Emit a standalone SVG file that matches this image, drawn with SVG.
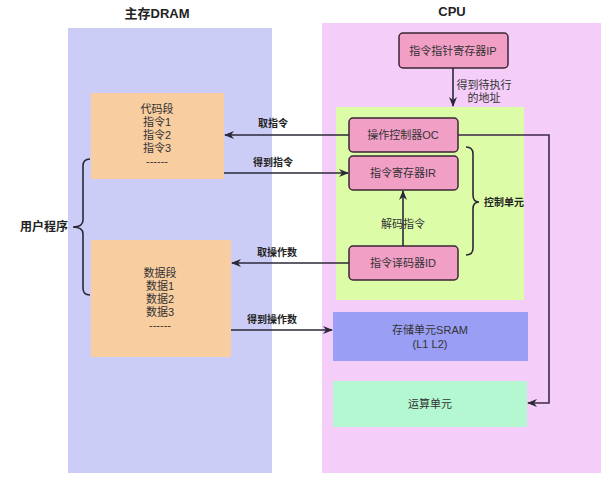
<svg xmlns="http://www.w3.org/2000/svg" width="613" height="485" viewBox="0 0 613 485">
<defs>
<style>
text{font-family:"Liberation Sans","Noto Sans CJK SC",sans-serif;text-anchor:middle;dominant-baseline:central;fill:#333}
.title{font-size:13px;font-weight:bold;fill:#222}
.t{font-size:11px}
.lbl{font-size:10px;font-weight:bold;fill:#222}
.reg{fill:#f29fc6;stroke:#3a2633;stroke-width:1.5}
.seg{fill:#f8cda0}
.ln{fill:none;stroke:#2b2838;stroke-width:1.6}
</style>
<marker id="ah" markerWidth="10" markerHeight="8" refX="9" refY="4" orient="auto" markerUnits="userSpaceOnUse">
<path d="M0,0 L10,4 L0,8 L3,4 z" fill="#2b2838"/>
</marker>
</defs>
<rect width="613" height="485" fill="#fff"/>
<g id="dram">
<rect x="68" y="28" width="204" height="445" fill="#cccdf7"/>
<text class="title" x="157" y="13">主存DRAM</text>
</g>
<g id="cpu">
<rect x="322" y="23" width="279" height="450" fill="#f5cdf9"/>
<text class="title" x="452" y="11">CPU</text>
</g>
<g id="control-unit">
<rect x="336" y="107" width="188" height="193" fill="#dcfca8"/>
</g>
<g id="code-seg">
<rect class="seg" x="91" y="93" width="133" height="86"/>
<text class="t" x="157" y="109">代码段<tspan x="157" dy="13">指令1</tspan><tspan x="157" dy="13">指令2</tspan><tspan x="157" dy="13">指令3</tspan><tspan x="157" dy="13">------</tspan></text>
</g>
<g id="data-seg">
<rect class="seg" x="91" y="240" width="140" height="117"/>
<text class="t" x="160" y="273">数据段<tspan x="160" dy="13">数据1</tspan><tspan x="160" dy="13">数据2</tspan><tspan x="160" dy="13">数据3</tspan><tspan x="160" dy="13">------</tspan></text>
</g>
<g id="user-program">
<path class="ln" d="M90,159 Q83,159 83,166 L83,220 Q83,227 73,227 Q83,227 83,234 L83,288 Q83,295 90,295"/>
<text class="lbl" x="44" y="227" style="font-size:12px">用户程序</text>
</g>
<g id="ip">
<rect class="reg" x="399" y="33" width="109" height="35" rx="4"/>
<text class="t" x="453" y="51">指令指针寄存器IP</text>
</g>
<g id="oc">
<rect class="reg" x="349" y="118" width="109" height="34" rx="4"/>
<text class="t" x="403" y="135">操作控制器OC</text>
</g>
<g id="ir">
<rect class="reg" x="349" y="156" width="109" height="34" rx="4"/>
<text class="t" x="403" y="173">指令寄存器IR</text>
</g>
<g id="id">
<rect class="reg" x="349" y="246" width="109" height="34" rx="4"/>
<text class="t" x="403" y="263">指令译码器ID</text>
</g>
<g id="control-brace">
<path class="ln" d="M466,147 Q473,147 473,154 L473,195 Q473,202 479,202 Q473,202 473,209 L473,248 Q473,255 466,255"/>
<text class="lbl" x="504" y="202">控制单元</text>
</g>
<g id="sram">
<rect x="333" y="312" width="195" height="49" fill="#9a9ef5"/>
<text class="t" x="430" y="330">存储单元SRAM<tspan x="430" dy="14">(L1 L2)</tspan></text>
</g>
<g id="alu">
<rect x="333" y="381" width="194" height="46" fill="#b3f8d0"/>
<text class="t" x="430" y="404">运算单元</text>
</g>
<g id="connectors">
<path class="ln" d="M453,68 L453,106" marker-end="url(#ah)"/>
<text class="t" x="484" y="85">得到待执行<tspan x="484" dy="13">的地址</tspan></text>
<path class="ln" d="M349,135 L225,135" marker-end="url(#ah)"/>
<text class="lbl" x="273" y="123">取指令</text>
<path class="ln" d="M224,173 L348,173" marker-end="url(#ah)"/>
<text class="lbl" x="273" y="162">得到指令</text>
<path class="ln" d="M403,246 L403,191" marker-end="url(#ah)"/>
<text class="t" x="403" y="224">解码指令</text>
<path class="ln" d="M349,263 L232,263" marker-end="url(#ah)"/>
<text class="lbl" x="277" y="252">取操作数</text>
<path class="ln" d="M231,330 L332,330" marker-end="url(#ah)"/>
<text class="lbl" x="272" y="319">得到操作数</text>
<path class="ln" d="M458,135 L549,135 L549,403 L528,403" marker-end="url(#ah)" style="stroke:#3d2847"/>
</g>
</svg>
